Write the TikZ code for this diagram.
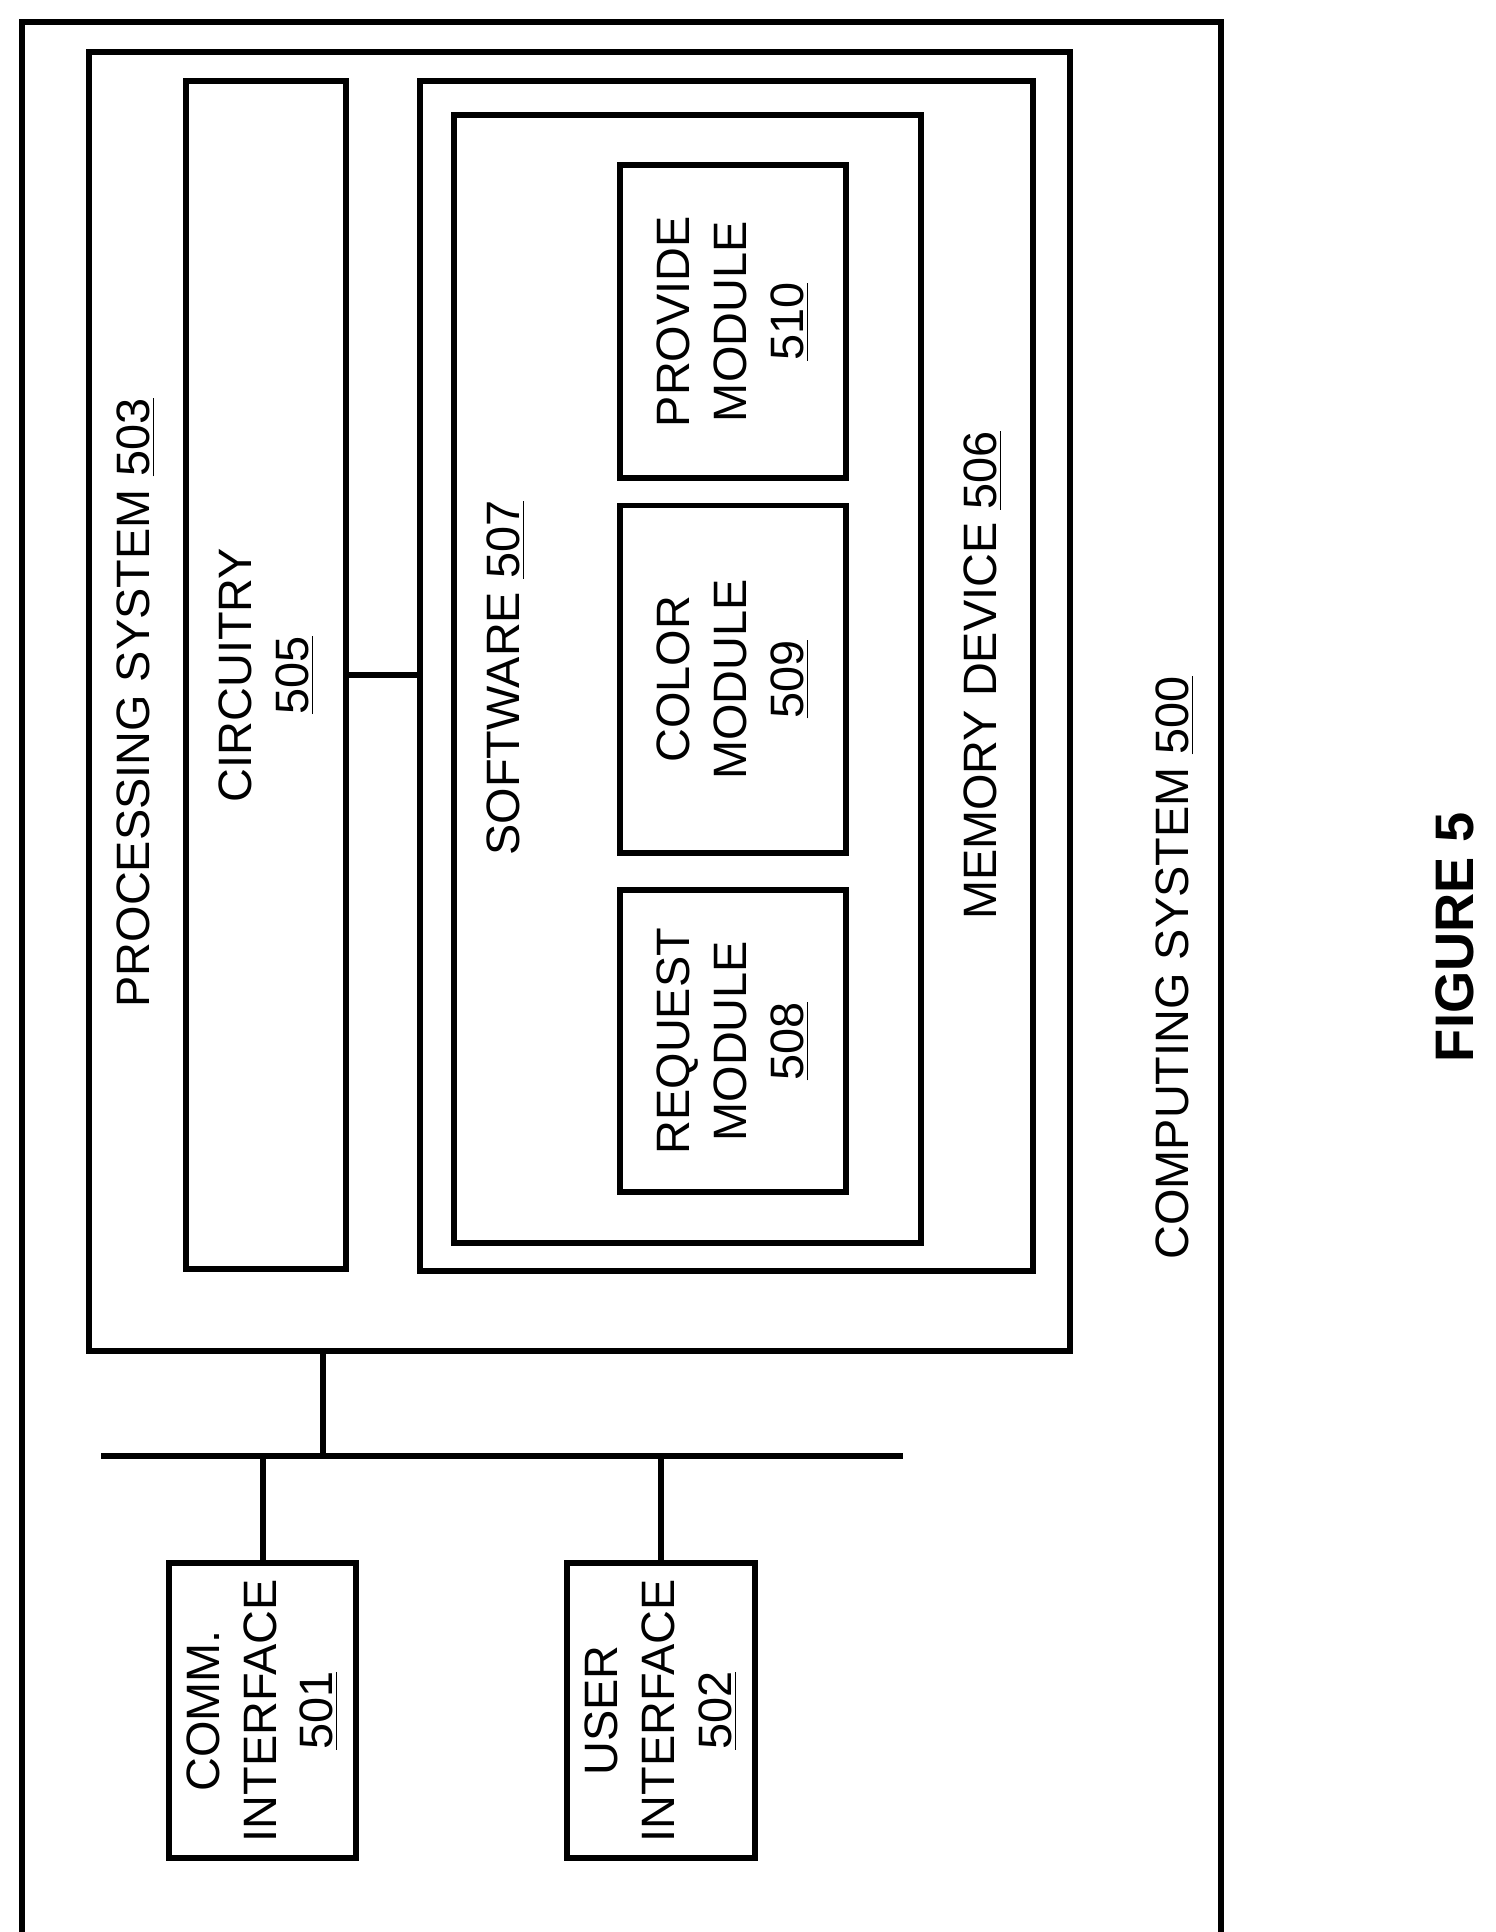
\documentclass[tikz,border=0pt]{standalone}
\usepackage{fontspec}
\setmainfont{Liberation Sans}
\usetikzlibrary{positioning}

\begin{document}
\begin{tikzpicture}[x=0.5pt,y=-0.5pt,line width=2.4pt,
    box/.style={rectangle, draw=black, inner sep=0pt},
    lbl/.style={rotate=90, align=center, font=\fontsize{19}{23}\selectfont}]
  \useasboundingbox (0,0) rectangle (1213,1567);
  % boxes
  \draw (18,18) rectangle (990,1570);
  \node[box, minimum width=398pt, minimum height=527pt] (ps)   at (470,569)  {};
  \node[box, minimum width=65pt,  minimum height=481.5pt] (circ) at (216,547.5) {};
  \node[box, minimum width=248.5pt, minimum height=482.5pt] (mem) at (589.5,548.5) {};
  \node[box, minimum width=189.5pt, minimum height=457.5pt] (sw)  at (557.5,550.5) {};
  \node[box, minimum width=91.5pt, minimum height=127pt]   (prov) at (594.5,261)  {};
  \node[box, minimum width=91.5pt, minimum height=141pt]   (col)  at (594.5,551)  {};
  \node[box, minimum width=91.5pt, minimum height=122.5pt] (req)  at (594.5,844.5) {};
  \node[box, minimum width=76pt, minimum height=119.5pt]   (comm) at (213,1387.5) {};
  \node[box, minimum width=76pt, minimum height=119.5pt]   (ui)   at (536,1387.5) {};
  % labels
  \node[lbl] (psl)   at (110,570)  {PROCESSING SYSTEM \underline{503}};
  \node[lbl] (csl)   at (953,785)  {COMPUTING SYSTEM \underline{500}};
  \node[lbl] (meml)  at (797,548)  {MEMORY DEVICE \underline{506}};
  \node[lbl] (swl)   at (410,550)  {SOFTWARE \underline{507}};
  \node[lbl] (circl) at (circ)     {CIRCUITRY\\\underline{505}};
  \node[lbl] (provl) at (prov)     {PROVIDE\\MODULE\\\underline{510}};
  \node[lbl] (coll)  at (col)      {COLOR\\MODULE\\\underline{509}};
  \node[lbl] (reql)  at (req)      {REQUEST\\MODULE\\\underline{508}};
  \node[lbl] (comml) at (comm)     {COMM.\\INTERFACE\\\underline{501}};
  \node[lbl] (uil)   at (ui)       {USER\\INTERFACE\\\underline{502}};
  \node[lbl, font=\bfseries\fontsize{22}{26}\selectfont] (fig) at (1180,760) {FIGURE 5};
  % bus
  \coordinate (busl) at (82,1181);
  \coordinate (busr) at (732,1181);
  \draw (busl) -- (busr);
  \draw (circ.east) -- (circ.east -| mem.west);
  \draw (262,1181) -- (ps.south -| 262,0);
  \draw (comm.north) -- (comm.north |- busl);
  \draw (ui.north) -- (ui.north |- busl);
\end{tikzpicture}
\end{document}
